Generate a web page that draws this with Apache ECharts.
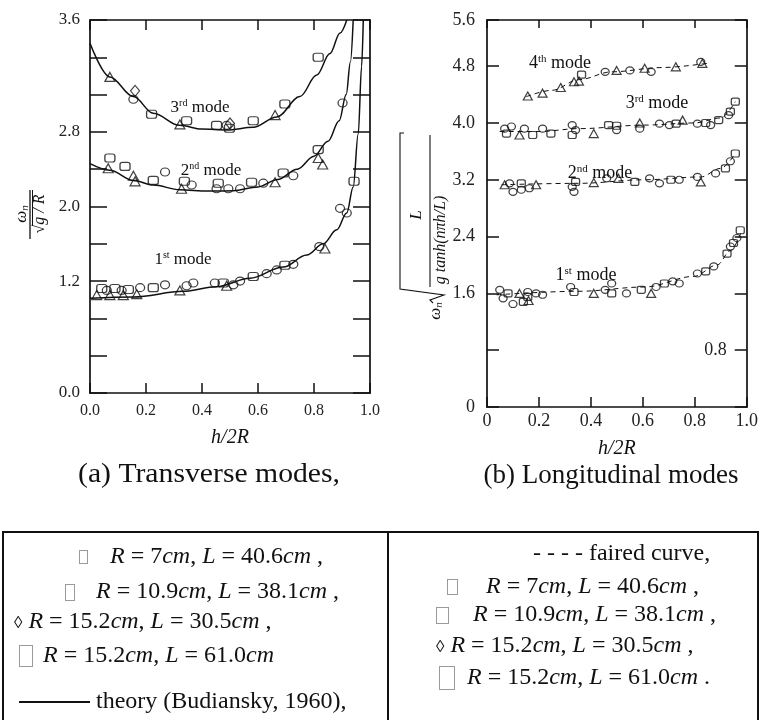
<!DOCTYPE html>
<html>
<head>
<meta charset="utf-8">
<script src="https://cdn.jsdelivr.net/npm/echarts@6/dist/echarts.min.js"></script>
<style>
  body { margin: 0; background: #fff; }
  #wrap { position: relative; width: 761px; height: 720px; overflow: hidden; font-family: "Liberation Serif", serif; color: #111; }
  #chart { position: absolute; left: 0; top: 0; width: 761px; height: 720px; }
  .ln { position: absolute; background: #111; }
  .row { position: absolute; white-space: nowrap; font-size: 24px; line-height: 26px; }
  .tofu { display: inline-block; border: 1px solid #9a9a9a; vertical-align: middle; }
</style>
</head>
<body>
<div id="wrap">
  <div id="chart"></div>
  <!-- legend table -->
  <div class="ln" style="left:2px;top:531px;width:757px;height:2px"></div>
  <div class="ln" style="left:2px;top:531px;width:2px;height:189px"></div>
  <div class="ln" style="left:387px;top:531px;width:2px;height:189px"></div>
  <div class="ln" style="left:757px;top:531px;width:2px;height:189px"></div>

  <div class="row" style="left:79px;top:542px"><span class="tofu" style="width:7px;height:12px"></span><span style="margin-left:22px"><i>R</i> = 7<i>cm</i>, <i>L</i> = 40.6<i>cm</i> ,</span></div>
  <div class="row" style="left:65px;top:577px"><span class="tofu" style="width:8px;height:15px"></span><span style="margin-left:21px"><i>R</i> = 10.9<i>cm</i>, <i>L</i> = 38.1<i>cm</i> ,</span></div>
  <div class="row" style="left:14px;top:607px"><span style="font-size:17px">◊</span> <i>R</i> = 15.2<i>cm</i>, <i>L</i> = 30.5<i>cm</i> ,</div>
  <div class="row" style="left:19px;top:641px"><span class="tofu" style="width:12px;height:20px"></span><span style="margin-left:10px"><i>R</i> = 15.2<i>cm</i>, <i>L</i> = 61.0<i>cm</i></span></div>
  <div class="row" style="left:19px;top:687px"><span style="display:inline-block;width:71px;height:2px;background:#111;vertical-align:middle"></span> theory (Budiansky, 1960),</div>

  <div class="row" style="left:533px;top:539px">- - - - faired curve,</div>
  <div class="row" style="left:447px;top:572px"><span class="tofu" style="width:9px;height:14px"></span><span style="margin-left:28px"><i>R</i> = 7<i>cm</i>, <i>L</i> = 40.6<i>cm</i> ,</span></div>
  <div class="row" style="left:436px;top:600px"><span class="tofu" style="width:11px;height:15px"></span><span style="margin-left:24px"><i>R</i> = 10.9<i>cm</i>, <i>L</i> = 38.1<i>cm</i> ,</span></div>
  <div class="row" style="left:436px;top:631px"><span style="font-size:17px">◊</span> <i>R</i> = 15.2<i>cm</i>, <i>L</i> = 30.5<i>cm</i> ,</div>
  <div class="row" style="left:439px;top:663px"><span class="tofu" style="width:14px;height:22px"></span><span style="margin-left:12px"><i>R</i> = 15.2<i>cm</i>, <i>L</i> = 61.0<i>cm</i> .</span></div>
</div>
<script>
// (a) transverse modes - theory curves (Budiansky)
var aTheory1 = [[0,1.015],[0.155,1.03],[0.333,1.09],[0.452,1.14],[0.571,1.23],[0.69,1.35],[0.774,1.48],[0.833,1.6],[0.881,1.75],[0.917,1.93],[0.94,2.21],[0.958,2.78],[0.97,3.5],[0.976,4.0]]
var aTheory2 = [[0,2.46],[0.071,2.39],[0.155,2.28],[0.226,2.23],[0.321,2.18],[0.42,2.165],[0.512,2.17],[0.60,2.21],[0.67,2.29],[0.74,2.40],[0.80,2.54],[0.85,2.70],[0.89,2.92],[0.915,3.2],[0.93,3.55],[0.94,4.0]]
var aTheory3 = [[0,3.75],[0.071,3.39],[0.155,3.18],[0.226,3.0],[0.32,2.87],[0.40,2.83],[0.488,2.82],[0.583,2.85],[0.667,2.96],[0.75,3.18],[0.81,3.41],[0.857,3.64],[0.893,3.86],[0.917,4.0]]
// (a) measured points
var aSquares = [[0.220,2.99],[0.345,2.92],[0.452,2.87],[0.498,2.84],[0.583,2.92],[0.696,3.10],[0.815,3.60],
  [0.071,2.52],[0.125,2.43],[0.226,2.28],[0.337,2.27],[0.458,2.25],[0.577,2.26],[0.690,2.36],[0.815,2.61],
  [0.042,1.12],[0.089,1.12],[0.137,1.11],[0.226,1.13],[0.476,1.18],[0.583,1.25],[0.696,1.37],[0.943,2.27]]
var aCircles = [[0.155,3.15],[0.488,2.87],
  [0.268,2.37],[0.363,2.23],[0.452,2.19],[0.494,2.19],[0.536,2.19],[0.619,2.25],[0.726,2.33],[0.902,3.11],
  [0.06,1.10],[0.113,1.10],[0.179,1.13],[0.268,1.16],[0.345,1.15],[0.369,1.18],[0.446,1.18],[0.512,1.16],[0.536,1.20],[0.631,1.28],[0.667,1.32],[0.726,1.38],[0.819,1.57],[0.893,1.98],[0.917,1.93]]
var aTriangles = [[0.071,3.39],[0.321,2.88],[0.661,2.98],
  [0.065,2.41],[0.155,2.33],[0.161,2.27],[0.327,2.19],[0.661,2.26],[0.815,2.52],[0.831,2.45],
  [0.024,1.05],[0.071,1.05],[0.119,1.05],[0.167,1.06],[0.321,1.10],[0.488,1.15],[0.839,1.55]]
var aDiamonds = [[0.161,3.24],[0.50,2.89]]

// (b) longitudinal modes - faired curves
var bFaired1 = [[0.037,1.58],[0.354,1.63],[0.607,1.69],[0.797,1.84],[0.886,2.0],[0.937,2.2],[0.981,2.49]]
var bFaired2 = [[0.056,3.13],[0.354,3.15],[0.607,3.20],[0.823,3.24],[0.899,3.36],[0.956,3.57]]
var bFaired3 = [[0.049,3.88],[0.2,3.88],[0.354,3.92],[0.607,3.97],[0.797,4.0],[0.899,4.07],[0.956,4.30]]
var bFaired4 = [[0.151,4.37],[0.25,4.46],[0.354,4.61],[0.48,4.72],[0.67,4.78],[0.848,4.84]]
// (b) measured points
var bSquares = [[0.364,4.68],
  [0.075,3.85],[0.176,3.83],[0.246,3.85],[0.328,3.83],[0.468,3.97],[0.499,3.96],[0.728,3.99],[0.842,4.0],[0.892,4.04],[0.937,4.16],[0.956,4.30],
  [0.132,3.15],[0.341,3.17],[0.569,3.17],[0.708,3.20],[0.918,3.36],[0.956,3.57],
  [0.081,1.60],[0.14,1.48],[0.157,1.55],[0.335,1.62],[0.48,1.60],[0.594,1.65],[0.683,1.74],[0.842,1.91],[0.924,2.16],[0.949,2.31],[0.975,2.49]]
var bCircles = [[0.455,4.72],[0.550,4.74],[0.632,4.72],[0.823,4.86],
  [0.068,3.92],[0.094,3.95],[0.144,3.92],[0.214,3.92],[0.328,3.97],[0.341,3.90],[0.499,3.90],[0.588,3.92],[0.664,3.99],[0.702,3.97],[0.810,3.99],[0.861,3.97],[0.930,4.11],
  [0.087,3.15],[0.1,3.03],[0.132,3.06],[0.163,3.08],[0.328,3.10],[0.335,3.03],[0.461,3.22],[0.626,3.22],[0.664,3.15],[0.740,3.20],[0.810,3.24],[0.880,3.29],[0.937,3.46],
  [0.049,1.65],[0.062,1.53],[0.1,1.45],[0.157,1.62],[0.189,1.60],[0.214,1.58],[0.322,1.69],[0.455,1.65],[0.48,1.74],[0.537,1.60],[0.651,1.69],[0.715,1.77],[0.74,1.74],[0.81,1.88],[0.873,1.98],[0.937,2.26],[0.962,2.38]]
var bTriangles = [[0.157,4.38],[0.214,4.42],[0.284,4.50],[0.335,4.58],[0.354,4.59],[0.499,4.74],[0.607,4.77],[0.727,4.79],[0.829,4.84],
  [0.125,3.83],[0.411,3.85],[0.588,4.0],[0.753,4.04],
  [0.068,3.13],[0.189,3.13],[0.411,3.16],[0.506,3.22],[0.823,3.17],
  [0.125,1.60],[0.16,1.50],[0.411,1.60],[0.632,1.60]]

// tick labels
var xTickA = ['0.0','0.2','0.4','0.6','0.8','1.0']
var yTickValA = [0, 1.2, 2.0, 2.8, 4.0]
var yTickTextA = ['0.0','1.2','2.0','2.8','3.6']
var xTickB = ['0','0.2','0.4','0.6','0.8','1.0']
var yTickValB = [0, 1.6, 2.4, 3.2, 4.0, 4.8, 5.45]
var yTickTextB = ['0','1.6','2.4','3.2','4.0','4.8','5.6']
var yRightValB = [0.8]
var yRightTextB = ['0.8']

var serif = '"Liberation Serif", "Times New Roman", serif'
var ink = '#111'

function pick(vals, texts) {
  return function (v) {
    for (var i = 0; i < vals.length; i++) {
      if (Math.abs(v - vals[i]) < 1e-6) return texts[i]
    }
    return ''
  }
}
function xFmt(texts) {
  return function (v) { return texts[Math.round(v / 0.2)] || '' }
}

function xAx(grid, pos, texts, tickLen, fontSize, margin, nameGap) {
  var ax = {
    gridIndex: grid, type: 'value', min: 0, max: 1, interval: 0.2, position: pos,
    axisLine: { onZero: false, lineStyle: { color: ink, width: 1.7 } },
    axisTick: { inside: true, length: tickLen, lineStyle: { color: ink, width: 1.5 } },
    axisLabel: { show: !!texts, formatter: texts ? xFmt(texts) : '', fontSize: fontSize, fontFamily: serif, color: '#222', margin: margin },
    splitLine: { show: false }
  }
  if (texts) {
    ax.name = 'h/2R'
    ax.nameLocation = 'middle'
    ax.nameGap = nameGap
    ax.nameTextStyle = { fontStyle: 'italic', fontSize: 20, fontFamily: serif, color: ink }
  }
  return ax
}
function yAx(grid, pos, max, interval, tickLen, fmt, fontSize, margin, inside) {
  return {
    gridIndex: grid, type: 'value', min: 0, max: max, interval: interval, position: pos,
    axisLine: { onZero: false, lineStyle: { color: ink, width: 1.7 } },
    axisTick: { inside: true, length: tickLen, lineStyle: { color: ink, width: 1.5 } },
    axisLabel: { show: !!fmt, inside: !!inside, formatter: fmt || '', fontSize: fontSize, fontFamily: serif, color: '#222', margin: margin, showMaxLabel: true, showMinLabel: true },
    splitLine: { show: false }
  }
}

function curve(xi, yi, data, dashed) {
  return {
    type: 'line', xAxisIndex: xi, yAxisIndex: yi, data: data, smooth: 0.35, smoothMonotone: 'x',
    showSymbol: false, symbol: 'none', silent: true, clip: true,
    lineStyle: { color: ink, width: dashed ? 1 : 1.5, type: dashed ? [5, 4] : 'solid' }
  }
}
function pts(xi, yi, data, symbol, size) {
  return {
    type: 'scatter', xAxisIndex: xi, yAxisIndex: yi, data: data, symbol: symbol, symbolSize: size, silent: true,
    itemStyle: { color: 'rgba(0,0,0,0)', borderColor: ink, borderWidth: 1.2 }
  }
}

function modeLabel(x, y, num, sup, fs) {
  return {
    type: 'text', x: x, y: y, silent: true,
    style: {
      text: '{n|' + num + '}{s|' + sup + '}{n| mode}', align: 'center', verticalAlign: 'middle', fill: ink,
      rich: {
        n: { fontSize: fs, fontFamily: serif, fill: ink, lineHeight: fs + 1, verticalAlign: 'bottom' },
        s: { fontSize: Math.round(fs * 0.6), fontFamily: serif, fill: ink, lineHeight: Math.round(fs * 0.6), verticalAlign: 'top' }
      }
    }
  }
}

var chart = echarts.init(document.getElementById('chart'), null, { renderer: 'canvas' })
chart.setOption({
  animation: false,
  backgroundColor: 'transparent',
  grid: [
    { left: 90, top: 20, width: 280, height: 373 },
    { left: 487, top: 20, width: 263, height: 387 }
  ],
  xAxis: [
    xAx(0, 'bottom', xTickA, 10, 16, 10, 35),
    xAx(0, 'top', null, 10),
    xAx(1, 'bottom', xTickB, 10, 18, 5, 32),
    xAx(1, 'top', null, 8)
  ],
  yAxis: [
    yAx(0, 'left', 4.0, 0.4, 17, pick(yTickValA, yTickTextA), 17, 10),
    yAx(0, 'right', 4.0, 0.4, 17, null),
    yAx(1, 'left', 5.45, 0.8, 12, pick(yTickValB, yTickTextB), 18, 12),
    yAx(1, 'right', 5.45, 0.8, 12, pick(yRightValB, yRightTextB), 18, 20, true)
  ],
  series: [
    curve(0, 0, aTheory1), curve(0, 0, aTheory2), curve(0, 0, aTheory3),
    pts(0, 0, aSquares, 'roundRect', [10, 8]),
    pts(0, 0, aCircles, 'circle', [9, 8]),
    pts(0, 0, aTriangles, 'triangle', [10, 9]),
    pts(0, 0, aDiamonds, 'diamond', [9, 11]),
    curve(2, 2, bFaired1, true), curve(2, 2, bFaired2, true), curve(2, 2, bFaired3, true), curve(2, 2, bFaired4, true),
    pts(2, 2, bSquares, 'roundRect', [8, 7]),
    pts(2, 2, bCircles, 'circle', [8, 7]),
    pts(2, 2, bTriangles, 'triangle', [9, 8])
  ],
  graphic: [
    modeLabel(200, 107, '3', 'rd', 17),
    modeLabel(211, 170, '2', 'nd', 17),
    modeLabel(183, 259, '1', 'st', 17),
    modeLabel(560, 63, '4', 'th', 18),
    modeLabel(657, 103, '3', 'rd', 18),
    modeLabel(600, 173, '2', 'nd', 18),
    modeLabel(586, 275, '1', 'st', 18),
    // y title (a): omega_n / sqrt(g/R), rotated
    {
      type: 'group', x: 30, y: 214, rotation: Math.PI / 2, silent: true,
      children: [
        { type: 'text', x: 0, y: -8, style: { text: '{w|ω}{s|n}', align: 'center', verticalAlign: 'middle', rich: { w: { fontSize: 17, fontFamily: serif, fontStyle: 'italic', fill: ink, lineHeight: 17, verticalAlign: 'top' }, s: { fontSize: 11, fontFamily: serif, fontStyle: 'italic', fill: ink, lineHeight: 11, verticalAlign: 'bottom' } } } },
        { type: 'line', shape: { x1: -25, y1: 0, x2: 24, y2: 0 }, style: { stroke: ink, lineWidth: 1.3 } },
        { type: 'text', x: 0, y: 10, style: { text: '√g / R', align: 'center', verticalAlign: 'middle', font: 'italic 16px ' + serif, fill: ink } },
        { type: 'line', shape: { x1: -12, y1: 2.5, x2: 24, y2: 2.5 }, style: { stroke: ink, lineWidth: 1 } }
      ]
    },
    // y title (b): omega_n sqrt(L / (g tanh(n pi h / L))), rotated
    {
      type: 'group', x: 425, y: 225, rotation: Math.PI / 2, silent: true,
      children: [
        { type: 'text', x: -86, y: 11, style: { text: '{w|ω}{s|n}', align: 'center', verticalAlign: 'middle', rich: { w: { fontSize: 17, fontFamily: serif, fontStyle: 'italic', fill: ink, lineHeight: 17, verticalAlign: 'top' }, s: { fontSize: 11, fontFamily: serif, fontStyle: 'italic', fill: ink, lineHeight: 11, verticalAlign: 'bottom' } } } },
        { type: 'polyline', shape: { points: [[-78, 8], [-75, 5], [-70, 19], [-64, -25], [92, -25], [92, -21]] }, style: { stroke: ink, fill: null, lineWidth: 1.1 } },
        { type: 'text', x: 10, y: -8, style: { text: 'L', align: 'center', verticalAlign: 'middle', font: 'italic 17px ' + serif, fill: ink } },
        { type: 'line', shape: { x1: -62, y1: 5, x2: 90, y2: 5 }, style: { stroke: ink, lineWidth: 1.1 } },
        { type: 'text', x: -15, y: 16, style: { text: 'g tanh(nπh/L)', align: 'center', verticalAlign: 'middle', font: 'italic 16px ' + serif, fill: ink } }
      ]
    },
    { type: 'text', x: 209, y: 475, scaleX: 1.1, silent: true, style: { text: '(a) Transverse modes,', align: 'center', verticalAlign: 'middle', font: '27px ' + serif, fill: ink } },
    { type: 'text', x: 611, y: 476, silent: true, style: { text: '(b) Longitudinal modes', align: 'center', verticalAlign: 'middle', font: '27px ' + serif, fill: ink } }
  ]
})
</script>
</body>
</html>
